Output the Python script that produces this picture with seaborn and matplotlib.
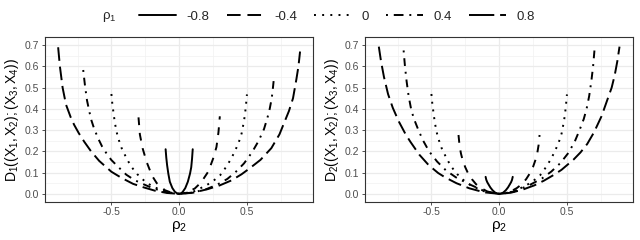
import numpy as np
import pandas as pd
import matplotlib
matplotlib.use("Agg")
import matplotlib.pyplot as plt
from matplotlib.lines import Line2D
import seaborn as sns

# values (rho2 -> D) for every rho1 level
rho1_levels = ["-0.8", "-0.4", "0", "0.4", "0.8"]

# left panel: D1
rho2_d1_m08 = [-0.1, -0.095, -0.089, -0.08, -0.069, -0.05, -0.032, -0.015, 0,
               0.015, 0.027, 0.045, 0.064, 0.08, 0.089, 0.095, 0.1]
d1_m08 = [0.21, 0.17, 0.135, 0.095, 0.057, 0.027, 0.01, 0.002, 0,
          0.002, 0.01, 0.027, 0.057, 0.095, 0.125, 0.165, 0.21]

rho2_d1_m04 = [-0.3, -0.29, -0.27, -0.24, -0.2, -0.165, -0.105, -0.05, 0,
               0.05, 0.115, 0.162, 0.215, 0.25, 0.275, 0.29, 0.3]
d1_m04 = [0.36, 0.28, 0.215, 0.15, 0.085, 0.05, 0.017, 0.004, 0,
          0.005, 0.025, 0.054, 0.105, 0.165, 0.22, 0.29, 0.365]

rho2_d1_0 = [-0.5, -0.493, -0.484, -0.475, -0.462, -0.445, -0.421, -0.39, -0.357,
             -0.31, -0.255, -0.2, -0.1, 0, 0.1, 0.195, 0.25, 0.303, 0.347, 0.385,
             0.415, 0.441, 0.461, 0.475, 0.485, 0.493, 0.5]
d1_0 = [0.47, 0.422, 0.379, 0.337, 0.292, 0.253, 0.209, 0.17, 0.131,
        0.093, 0.06, 0.036, 0.009, 0, 0.009, 0.038, 0.06, 0.088, 0.127, 0.167,
        0.206, 0.245, 0.285, 0.332, 0.371, 0.418, 0.468]

rho2_d1_p04 = [-0.708, -0.695, -0.68, -0.662, -0.647, -0.628, -0.598, -0.568, -0.536,
               -0.5, -0.45, -0.39, -0.33, -0.27, -0.2, -0.143, -0.07, 0,
               0.1, 0.2, 0.28, 0.355, 0.414, 0.478, 0.537, 0.586, 0.626,
               0.652, 0.668, 0.683, 0.692, 0.7]
d1_p04 = [0.583, 0.51, 0.44, 0.385, 0.345, 0.308, 0.261, 0.222, 0.19,
          0.159, 0.127, 0.09, 0.065, 0.047, 0.028, 0.016, 0.004, 0,
          0.006, 0.022, 0.043, 0.07, 0.101, 0.143, 0.195, 0.249, 0.305,
          0.36, 0.4, 0.45, 0.5, 0.55]

rho2_d1_p08 = [-0.893, -0.88, -0.86, -0.835, -0.8, -0.775, -0.74, -0.7, -0.65,
               -0.59, -0.5, -0.425, -0.34, -0.27, -0.18, -0.09, 0,
               0.1, 0.21, 0.3, 0.385, 0.46, 0.52, 0.6, 0.68, 0.74,
               0.775, 0.81, 0.84, 0.865, 0.88, 0.892]
d1_p08 = [0.69, 0.6, 0.5, 0.42, 0.36, 0.325, 0.285, 0.245, 0.2,
          0.155, 0.104, 0.075, 0.047, 0.032, 0.015, 0.004, 0,
          0.005, 0.022, 0.04, 0.063, 0.092, 0.12, 0.16, 0.215, 0.28,
          0.335, 0.39, 0.45, 0.54, 0.6, 0.67]

# right panel: D2
rho2_d2_m08 = [-0.1, -0.095, -0.088, -0.079, -0.065, -0.049, -0.03, -0.012, 0,
               0.012, 0.03, 0.049, 0.065, 0.079, 0.088, 0.095, 0.1]
d2_m08 = [0.08, 0.066, 0.055, 0.045, 0.03, 0.017, 0.006, 0.001, 0,
          0.001, 0.006, 0.017, 0.03, 0.045, 0.055, 0.066, 0.08]

rho2_d2_m04 = [-0.3, -0.292, -0.282, -0.268, -0.25, -0.232, -0.2, -0.17, -0.13,
               -0.09, -0.045, 0, 0.045, 0.09, 0.13, 0.17, 0.2, 0.232, 0.25,
               0.268, 0.282, 0.291, 0.298]
d2_m04 = [0.277, 0.225, 0.19, 0.155, 0.125, 0.1, 0.068, 0.045, 0.026,
          0.012, 0.003, 0, 0.003, 0.013, 0.027, 0.047, 0.07, 0.102, 0.127,
          0.16, 0.195, 0.23, 0.277]

rho2_d2_0 = [-0.5, -0.493, -0.484, -0.475, -0.462, -0.445, -0.421, -0.39, -0.357,
             -0.31, -0.255, -0.2, -0.1, 0, 0.1, 0.195, 0.25, 0.303, 0.347, 0.385,
             0.415, 0.441, 0.461, 0.475, 0.485, 0.493, 0.5]
d2_0 = [0.47, 0.422, 0.379, 0.337, 0.292, 0.253, 0.209, 0.17, 0.131,
        0.093, 0.06, 0.036, 0.009, 0, 0.009, 0.038, 0.06, 0.088, 0.127, 0.167,
        0.206, 0.245, 0.285, 0.332, 0.371, 0.418, 0.468]

rho2_d2_p04 = [-0.705, -0.695, -0.683, -0.668, -0.65, -0.63, -0.602, -0.565, -0.517,
               -0.458, -0.392, -0.32, -0.22, -0.11, 0,
               0.11, 0.22, 0.315, 0.385, 0.452, 0.51, 0.557, 0.593, 0.624,
               0.645, 0.664, 0.68, 0.693, 0.703]
d2_p04 = [0.675, 0.6, 0.53, 0.46, 0.4, 0.355, 0.31, 0.255, 0.2,
          0.152, 0.11, 0.078, 0.045, 0.013, 0,
          0.011, 0.04, 0.072, 0.105, 0.145, 0.192, 0.245, 0.3, 0.352,
          0.4, 0.46, 0.53, 0.6, 0.675]

rho2_d2_p08 = [-0.888, -0.872, -0.85, -0.82, -0.785, -0.74, -0.69, -0.655, -0.59,
               -0.52, -0.45, -0.4, -0.315, -0.22, -0.11, 0,
               0.085, 0.17, 0.26, 0.33, 0.4, 0.46, 0.55, 0.6, 0.65,
               0.7, 0.755, 0.805, 0.83, 0.853, 0.872, 0.888]
d2_p08 = [0.693, 0.625, 0.55, 0.47, 0.405, 0.34, 0.28, 0.245, 0.185,
          0.135, 0.098, 0.078, 0.05, 0.026, 0.007, 0,
          0.005, 0.019, 0.04, 0.062, 0.088, 0.113, 0.162, 0.195, 0.235,
          0.29, 0.365, 0.455, 0.5, 0.56, 0.625, 0.693]

curves = {
    "D1": [(rho2_d1_m08, d1_m08), (rho2_d1_m04, d1_m04), (rho2_d1_0, d1_0),
           (rho2_d1_p04, d1_p04), (rho2_d1_p08, d1_p08)],
    "D2": [(rho2_d2_m08, d2_m08), (rho2_d2_m04, d2_m04), (rho2_d2_0, d2_0),
           (rho2_d2_p04, d2_p04), (rho2_d2_p08, d2_p08)],
}

rows = []
for panel, lst in curves.items():
    for lev, (xs, ys) in zip(rho1_levels, lst):
        for x, y in zip(xs, ys):
            rows.append((panel, lev, x, y))
df = pd.DataFrame(rows, columns=["panel", "rho1", "rho2", "D"])

# ggplot linetypes: solid, dashed, dotted, dotdash, longdash
dash_map = {"-0.8": "", "-0.4": (4, 4), "0": (1, 3), "0.4": (1, 3, 4, 3), "0.8": (7, 3)}
# the legend keys draw the dashes a bit longer
key_dashes = {"-0.8": None, "-0.4": (7, 3.5), "0": (1, 3.2), "0.4": (1, 3, 5, 3), "0.8": (13, 3)}

sns.set_theme(style="whitegrid")
plt.rcParams["font.family"] = ["Liberation Sans", "DejaVu Sans"]
plt.rcParams["mathtext.fontset"] = "custom"
plt.rcParams["mathtext.rm"] = "Liberation Sans"
plt.rcParams["mathtext.it"] = "Liberation Sans:italic"
plt.rcParams["axes.unicode_minus"] = False

fig = plt.figure(figsize=(6.4, 2.4), dpi=100)
ax1 = fig.add_axes([0.0703, 0.1596, 0.4193, 0.685])
ax2 = fig.add_axes([0.5703, 0.1596, 0.4193, 0.685])

lw = 1.4
ylabels = [r"$\mathrm{D_1((X_1,X_2);(X_3,X_4))}$", r"$\mathrm{D_2((X_1,X_2);(X_3,X_4))}$"]
for ax, panel, ylab in zip([ax1, ax2], ["D1", "D2"], ylabels):
    sub = df[df["panel"] == panel]
    sns.lineplot(data=sub, x="rho2", y="D", style="rho1", style_order=rho1_levels,
                 dashes=dash_map, color="black", linewidth=lw, errorbar=None,
                 legend=False, ax=ax)
    ax.set_xlim(-0.99, 0.99)
    ax.set_ylim(-0.037, 0.737)
    ax.set_xticks([-0.5, 0.0, 0.5])
    ax.set_xticklabels(["-0.5", "0.0", "0.5"])
    ax.set_xticks([-0.75, -0.25, 0.25, 0.75], minor=True)
    ax.set_yticks(np.arange(0, 0.71, 0.1))
    ax.set_yticklabels([f"{v:.1f}" for v in np.arange(0, 0.71, 0.1)])
    ax.set_yticks(np.arange(0.05, 0.7, 0.1), minor=True)
    ax.grid(which="major", color="#EBEBEB", linewidth=0.9)
    ax.grid(which="minor", color="#F2F2F2", linewidth=0.5)
    ax.set_axisbelow(True)
    for s in ax.spines.values():
        s.set_color("#333333")
        s.set_linewidth(0.8)
    ax.tick_params(which="major", length=2.5, width=0.6, color="#333333",
                   labelcolor="#4D4D4D", labelsize=7.5, pad=1.5,
                   left=True, bottom=True)
    ax.tick_params(which="minor", length=0)
    ax.set_xlabel(r"$\mathrm{\rho_2}$", fontsize=11, color="black", labelpad=1)
    ax.set_ylabel(ylab, fontsize=10, color="black", labelpad=3)

handles = []
for lev in rho1_levels:
    d = key_dashes[lev]
    if d is None:
        handles.append(Line2D([], [], color="black", linewidth=lw, linestyle="-"))
    else:
        handles.append(Line2D([], [], color="black", linewidth=lw, dashes=d))

fig.legend(handles, rho1_levels, loc="center", bbox_to_anchor=(0.527, 0.93),
           ncol=5, frameon=False, fontsize=9.5, handlelength=2.8,
           handletextpad=0.8, columnspacing=1.3)
fig.text(0.159, 0.93, r"$\mathrm{\rho_1}$", fontsize=9.5, ha="left", va="center")

fig.savefig("out.png", dpi=100)
